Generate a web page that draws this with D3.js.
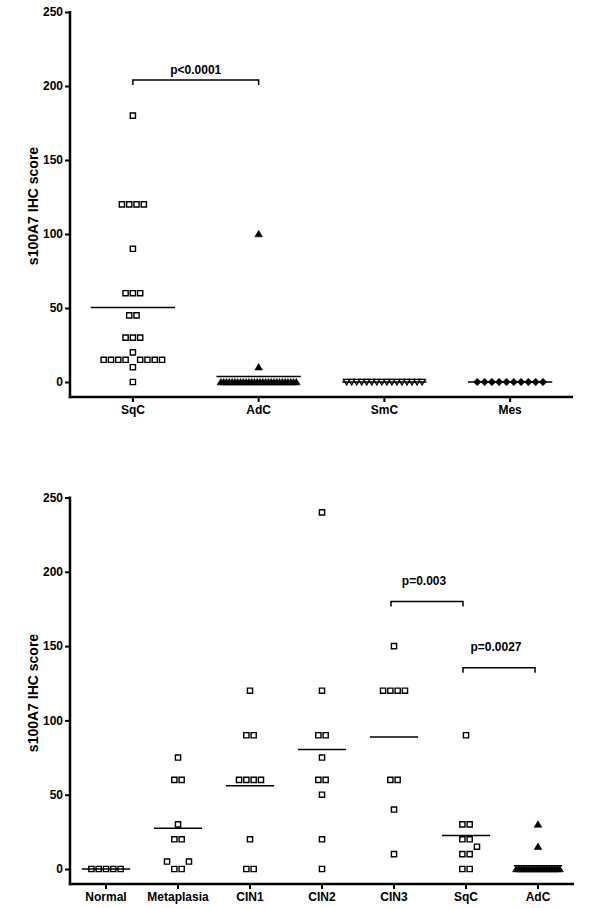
<!DOCTYPE html>
<html><head><meta charset="utf-8">
<script src="https://cdn.jsdelivr.net/npm/d3@7"></script>
<style>
html,body{margin:0;padding:0;background:#fff;}
text{font-family:Arial,"Liberation Sans",Helvetica,sans-serif;font-weight:bold;fill:#000;}
</style></head>
<body>
<svg id="chart" width="600" height="908"></svg>
<script>
// ---------- DATA ----------
const topCategories = ["SqC", "AdC", "SmC", "Mes"];
const topSqC = [180, 120, 120, 120, 120, 90, 60, 60, 60, 45, 45, 30, 30, 30, 20, 15, 15, 15, 15, 15, 15, 15, 15, 10, 0];
const topAdC = [100, 10, 0, 0, 0, 0, 0, 0, 0, 0, 0, 0, 0, 0, 0, 0, 0, 0, 0, 0, 0, 0, 0, 0, 0, 0, 0, 0, 0, 0];
const topSmC = [0, 0, 0, 0, 0, 0, 0, 0, 0, 0, 0, 0, 0, 0, 0, 0];
const topMes = [0, 0, 0, 0, 0, 0, 0, 0, 0, 0];
const topSymbols = ["square", "triangle", "triangleDownOpen", "diamond"];

const bottomCategories = ["Normal", "Metaplasia", "CIN1", "CIN2", "CIN3", "SqC", "AdC"];
const botNormal = [0, 0, 0, 0, 0];
const botMetaplasia = [75, 60, 60, 30, 20, 20, 5, 5, 0, 0];
const botCIN1 = [120, 90, 90, 60, 60, 60, 60, 20, 0, 0];
const botCIN2 = [240, 120, 90, 90, 75, 60, 60, 50, 20, 0];
const botCIN3 = [150, 120, 120, 120, 120, 60, 60, 40, 10];
const botSqC = [90, 30, 30, 20, 20, 15, 10, 10, 0, 0];
const botAdC = [30, 15, 0, 0, 0, 0, 0, 0, 0, 0, 0, 0, 0, 0, 0, 0, 0, 0, 0, 0];
const bottomSymbols = ["square", "square", "square", "square", "square", "square", "triangle"];

const yTicks = [0, 50, 100, 150, 200, 250];
const yLabel = "s100A7 IHC score";

const topBrackets = [{ from: "SqC", to: "AdC", level: 204, label: "p<0.0001" }];
const bottomBrackets = [
  { from: "CIN3", to: "SqC", level: 180, label: "p=0.003" },
  { from: "SqC", to: "AdC", level: 135.5, label: "p=0.0027" }
];

// ---------- DRAWING ----------
const svg = d3.select("#chart");

function symbolPath(type) {
  if (type === "square") return { d: "M-2.6,-2.6H2.6V2.6H-2.6Z", fill: "#fff", stroke: "#000", sw: 1.4 };
  if (type === "triangle") return { d: "M0,-3.6L3.8,2.8H-3.8Z", fill: "#000", stroke: "#000", sw: 0.6 };
  if (type === "triangleDownOpen") return { d: "M0,3L3.3,-2.6H-3.3Z", fill: "#fff", stroke: "#000", sw: 1.3 };
  if (type === "diamond") return { d: "M0,-3.8L3.8,0L0,3.8L-3.8,0Z", fill: "#000", stroke: "#000", sw: 0.5 };
}

function layout(values, yScale, cx, baseStep, maxSpan) {
  const counts = d3.rollup(values, v => v.length, d => d);
  const maxN = d3.max(counts.values());
  const step = maxN > 1 ? Math.min(baseStep, maxSpan / (maxN - 1)) : baseStep;
  const groups = d3.groups(values, d => d).sort((a, b) => a[0] - b[0]);
  const placed = [];
  const dyThr = 8;
  const collides = (off, y) => placed.some(p => Math.abs(p.off - off) < 0.9 && Math.abs(p.y - y) < dyThr);
  for (const [v, arr] of groups) {
    const y = yScale(v), n = arr.length;
    const sym = d3.range(n).map(i => i - (n - 1) / 2);
    let offs;
    if (!sym.some(o => collides(o, y))) offs = sym;
    else {
      offs = [];
      const cands = [0];
      for (let k = 0.5; k < 60; k += 0.5) cands.push(k, -k);
      for (const c of cands) {
        if (offs.length >= n) break;
        if (!collides(c, y) && !offs.some(o => Math.abs(o - c) < 0.9)) offs.push(c);
      }
    }
    offs.forEach(o => placed.push({ v, y, off: o }));
  }
  return placed.map(p => ({ v: p.v, x: cx + p.off * step, y: p.y }));
}

function drawPanel(cfg) {
  const g = svg.append("g");
  const y = d3.scaleLinear().domain([0, 250]).range([cfg.y0, cfg.y250]);
  const x = d3.scaleBand().domain(cfg.categories).range([cfg.xLeft, cfg.xRight]).padding(0);
  const cx = c => x(c) + x.bandwidth() / 2;

  // axes lines
  g.append("line").attr("x1", cfg.xLeft).attr("x2", cfg.xLeft)
    .attr("y1", y(250) - 1).attr("y2", cfg.xAxisY + 1.25)
    .attr("stroke", "#000").attr("stroke-width", 2.5);
  g.append("line").attr("x1", cfg.xLeft - 1.25).attr("x2", cfg.xRight)
    .attr("y1", cfg.xAxisY).attr("y2", cfg.xAxisY)
    .attr("stroke", "#000").attr("stroke-width", 2.5);

  // y axis ticks
  const yAxis = d3.axisLeft(y).tickValues(yTicks).tickSize(5).tickPadding(2).tickSizeOuter(0);
  const ya = g.append("g").attr("transform", `translate(${cfg.xLeft},0)`).call(yAxis);
  ya.select(".domain").remove();
  ya.selectAll(".tick line").attr("stroke", "#000").attr("stroke-width", 2);
  ya.selectAll(".tick text").style("font-size", "12px").style("font-weight", "bold")
    .style("font-family", "Arial, 'Liberation Sans', sans-serif").attr("fill", "#000");

  // x axis ticks
  const xAxis = d3.axisBottom(x).tickSize(5).tickPadding(3).tickSizeOuter(0);
  const xa = g.append("g").attr("transform", `translate(0,${cfg.xAxisY})`).call(xAxis);
  xa.select(".domain").remove();
  xa.selectAll(".tick line").attr("stroke", "#000").attr("stroke-width", 2);
  xa.selectAll(".tick text").style("font-size", "12px").style("font-weight", "bold")
    .style("font-family", "Arial, 'Liberation Sans', sans-serif").attr("fill", "#000");

  // y label
  g.append("text").attr("transform", `translate(${cfg.labelX},${cfg.labelY}) rotate(-90)`)
    .attr("text-anchor", "middle").style("font-size", "14px").text(yLabel);

  // series
  cfg.series.forEach((vals, i) => {
    const cat = cfg.categories[i];
    const c = cx(cat);
    const mean = d3.mean(vals);
    const lw = x.bandwidth() * 0.67;
    const pts = layout(vals, y, c, 7.3, x.bandwidth() * 0.6);
    const sp = symbolPath(cfg.symbols[i]);
    g.append("g").selectAll("path").data(pts).join("path")
      .attr("d", sp.d).attr("transform", d => `translate(${d.x},${d.y})`)
      .attr("fill", sp.fill).attr("stroke", sp.stroke).attr("stroke-width", sp.sw);
    g.append("line").attr("x1", c - lw / 2).attr("x2", c + lw / 2)
      .attr("y1", y(mean)).attr("y2", y(mean))
      .attr("stroke", "#000").attr("stroke-width", 1.5);
  });

  // brackets
  cfg.brackets.forEach(b => {
    const x1 = cx(b.from) + cfg.bracketShift, x2 = cx(b.to) + cfg.bracketShift, yy = y(b.level);
    g.append("path").attr("d", `M${x1},${yy + 5}V${yy}H${x2}V${yy + 5}`)
      .attr("fill", "none").attr("stroke", "#000").attr("stroke-width", 1.5);
    g.append("text").attr("x", (x1 + x2) / 2 - cfg.textShift).attr("y", yy - cfg.pGap)
      .attr("text-anchor", "middle").style("font-size", "12px").text(b.label);
  });
}

drawPanel({
  categories: topCategories,
  series: [topSqC, topAdC, topSmC, topMes],
  symbols: topSymbols,
  y0: 382, y250: 12, xLeft: 70, xRight: 573, xAxisY: 397,
  labelX: 38, labelY: 206, pGap: 6, bracketShift: 0, textShift: 0,
  brackets: topBrackets
});

drawPanel({
  categories: bottomCategories,
  series: [botNormal, botMetaplasia, botCIN1, botCIN2, botCIN3, botSqC, botAdC],
  symbols: bottomSymbols,
  y0: 869, y250: 497.5, xLeft: 70, xRight: 574, xAxisY: 884,
  labelX: 38, labelY: 693, pGap: 17, bracketShift: -3, textShift: 3,
  brackets: bottomBrackets
});
</script>
</body></html>
